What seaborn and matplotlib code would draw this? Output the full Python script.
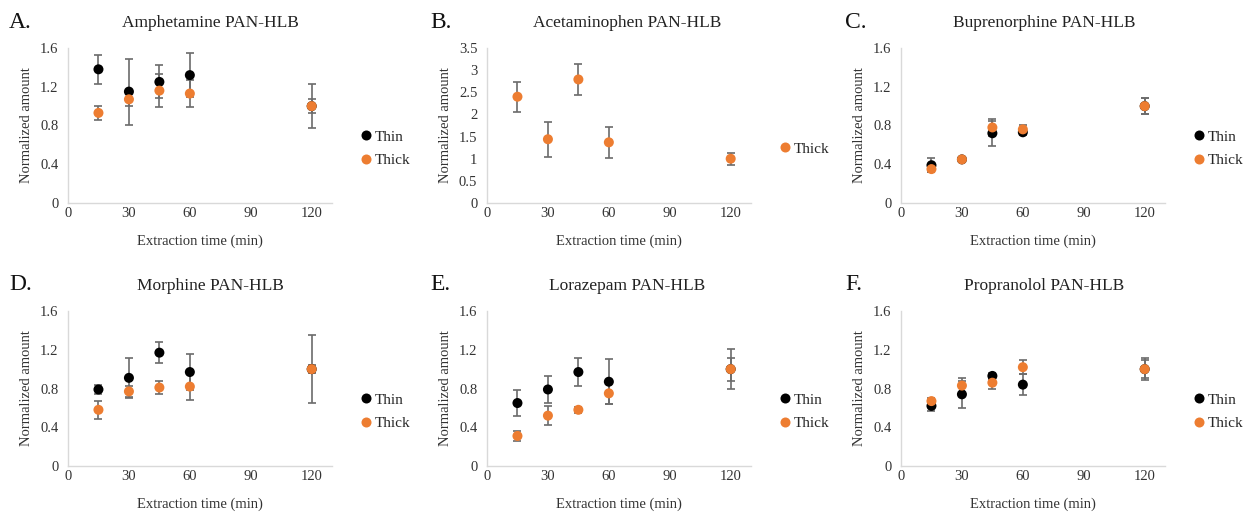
import pandas as pd
import matplotlib
matplotlib.use('Agg')
import matplotlib.pyplot as plt
import seaborn as sns

# Extraction times (min)
times = [15, 30, 45, 60, 120]

# A. Amphetamine
amph_thin = [1.38, 1.15, 1.25, 1.32, 1.00]
amph_thin_err = [0.15, 0.34, 0.17, 0.23, 0.23]
amph_thick = [0.93, 1.07, 1.16, 1.13, 1.00]
amph_thick_err = [0.07, 0.07, 0.17, 0.14, 0.07]

# B. Acetaminophen (thick only)
acet_thick = [2.40, 1.44, 2.79, 1.37, 1.00]
acet_thick_err = [0.34, 0.39, 0.34, 0.35, 0.14]

# C. Buprenorphine
bupr_thin = [0.39, 0.45, 0.72, 0.73, 1.00]
bupr_thin_err = [0.07, 0.03, 0.13, 0.03, 0.08]
bupr_thick = [0.35, 0.45, 0.78, 0.76, 1.00]
bupr_thick_err = [0.03, 0.03, 0.09, 0.05, 0.08]

# D. Morphine
morp_thin = [0.79, 0.91, 1.17, 0.97, 1.00]
morp_thin_err = [0.05, 0.21, 0.11, 0.19, 0.35]
morp_thick = [0.58, 0.77, 0.81, 0.82, 1.00]
morp_thick_err = [0.09, 0.06, 0.07, 0.14, 0.04]

# E. Lorazepam
lora_thin = [0.65, 0.79, 0.97, 0.87, 1.00]
lora_thin_err = [0.135, 0.14, 0.14, 0.23, 0.21]
lora_thick = [0.31, 0.52, 0.58, 0.75, 1.00]
lora_thick_err = [0.05, 0.10, 0.03, 0.11, 0.12]

# F. Propranolol
prop_thin = [0.62, 0.74, 0.93, 0.84, 1.00]
prop_thin_err = [0.05, 0.14, 0.03, 0.11, 0.11]
prop_thick = [0.67, 0.83, 0.86, 1.02, 1.00]
prop_thick_err = [0.03, 0.08, 0.06, 0.07, 0.09]

panels = [
    ('A.', 'Amphetamine PAN-HLB', amph_thin, amph_thin_err, amph_thick, amph_thick_err, 1.6, 0.4),
    ('B.', 'Acetaminophen PAN-HLB', None, None, acet_thick, acet_thick_err, 3.5, 0.5),
    ('C.', 'Buprenorphine PAN-HLB', bupr_thin, bupr_thin_err, bupr_thick, bupr_thick_err, 1.6, 0.4),
    ('D.', 'Morphine PAN-HLB', morp_thin, morp_thin_err, morp_thick, morp_thick_err, 1.6, 0.4),
    ('E.', 'Lorazepam PAN-HLB', lora_thin, lora_thin_err, lora_thick, lora_thick_err, 1.6, 0.4),
    ('F.', 'Propranolol PAN-HLB', prop_thin, prop_thin_err, prop_thick, prop_thick_err, 1.6, 0.4),
]

sns.set_style('white')
plt.rcParams['font.family'] = ['Liberation Serif', 'DejaVu Serif']

W, H = 1244, 512
fig = plt.figure(figsize=(W / 100, H / 100), dpi=100)

col_left = [68, 487, 901]
col_title = [210, 627, 1044]
col_label = [9, 430, 845]
row_top = [48, 311]
axw, axh = 264, 155

palette = {'Thin': 'black', 'Thick': '#ED7D31'}

for i, (lab, title, thin, thin_err, thick, thick_err, ymax, ystep) in enumerate(panels):
    r, c = divmod(i, 3)
    left = col_left[c]
    top = row_top[r]
    ax = fig.add_axes([left / W, 1 - (top + axh) / H, axw / W, axh / H])

    rows = []
    if thin is not None:
        ax.errorbar(times, thin, yerr=thin_err, fmt='none', ecolor='#6b6b6b',
                    elinewidth=1.2, capsize=3, capthick=1.2, zorder=2)
        for t, v in zip(times, thin):
            rows.append({'time': t, 'amount': v, 'Film': 'Thin'})
    ax.errorbar(times, thick, yerr=thick_err, fmt='none', ecolor='#6b6b6b',
                elinewidth=1.2, capsize=3, capthick=1.2, zorder=2)
    for t, v in zip(times, thick):
        rows.append({'time': t, 'amount': v, 'Film': 'Thick'})
    df = pd.DataFrame(rows)

    sns.scatterplot(data=df, x='time', y='amount', hue='Film', palette=palette,
                    s=52, linewidth=0, ax=ax, zorder=3)

    ax.set_xlim(0, 130)
    ax.set_ylim(0, ymax)
    ax.set_xticks([0, 30, 60, 90, 120])
    yt = [round(k * ystep, 2) for k in range(int(round(ymax / ystep)) + 1)]
    ax.set_yticks(yt)
    ax.set_yticklabels([f'{v:g}' for v in yt])
    ax.tick_params(length=0, labelsize=10.5, labelcolor='#333333')
    ax.tick_params(axis='x', pad=3)
    ax.tick_params(axis='y', pad=7)
    for s in ['top', 'right']:
        ax.spines[s].set_visible(False)
    for s in ['left', 'bottom']:
        ax.spines[s].set_color('#d9d9d9')
        ax.spines[s].set_linewidth(1)
    ax.set_xlabel('Extraction time (min)', fontsize=10.5, color='#333333', labelpad=10)
    ax.set_ylabel('Normalized amount', fontsize=10.5, color='#333333', labelpad=5)

    sns.move_legend(ax, 'center left', bbox_to_anchor=(1.11, 0.35), frameon=False,
                    title=None, fontsize=11, handlelength=0.6, handletextpad=0.3,
                    labelspacing=0.65, borderaxespad=0, borderpad=0)

    fig.text(col_title[c] / W, 1 - (top - 25) / H, title, ha='center', va='center',
             fontsize=12.5, color='#222222')
    fig.text(col_label[c] / W, 1 - (top - 26) / H, lab, ha='left', va='center',
             fontsize=17, color='#111111')

fig.savefig('out.png', dpi=100, facecolor='white')
